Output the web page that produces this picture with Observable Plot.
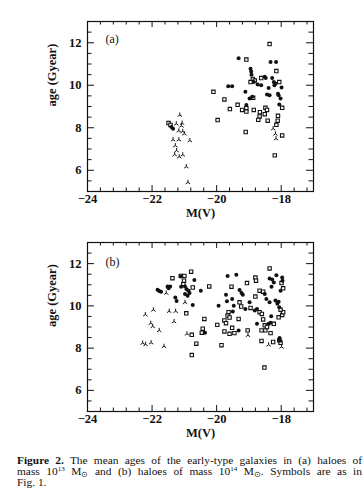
<!DOCTYPE html>
<html><head><meta charset="utf-8">
<script src="https://cdn.jsdelivr.net/npm/d3@7"></script>
<script src="https://cdn.jsdelivr.net/npm/@observablehq/plot@0.6"></script>
<style>
body{margin:0;background:#fff;width:364px;overflow:hidden}
#chart svg{display:block}
#cap{font-family:"Liberation Serif","Times New Roman",serif;font-size:11.4px;line-height:11px;color:#111;margin:10px 2px 0 17px}
#cap .l{display:block;text-align:justify;text-align-last:justify;white-space:nowrap}
#cap .l.last{text-align-last:left}
#cap sup{font-size:7px;line-height:0;vertical-align:4px}
#cap sub{font-size:8px;line-height:0;vertical-align:-2px}
</style></head>
<body>
<div id="chart"></div>
<div id="cap">
<span class="l"><b>Figure 2.</b> The mean ages of the early-type galaxies in (a) haloes of</span>
<span class="l">mass 10<sup>13</sup> M<sub>⊙</sub> and (b) haloes of mass 10<sup>14</sup> M<sub>⊙</sub>. Symbols are as in</span>
<span class="l last">Fig. 1.</span>
</div>
<script>
// Axis ticks
const xMajor = [-24, -22, -20, -18];
const xMinor = [-23.6, -23.2, -22.8, -22.4, -21.6, -21.2, -20.8, -20.4, -19.6, -19.2, -18.8, -18.4, -17.6, -17.2];
const yMajor = [6, 8, 10, 12];
const yMinor = [5.5, 6.5, 7, 7.5, 8.5, 9, 9.5, 10.5, 11, 11.5, 12.5];

// Panel (a): haloes of 10^13 Msun  [M(V), age]
const aCircles = [
[-21.40,8.03],[-21.35,7.95],
[-19.32,11.27],[-18.33,11.09],[-18.16,11.09],
[-18.95,10.78],[-18.93,10.65],[-18.92,10.50],
[-19.64,9.95],[-19.52,9.95],
[-19.11,9.69],[-19.08,9.07],[-18.98,9.38],[-18.90,9.46],
[-18.85,10.15],[-18.73,10.03],[-18.62,10.00],
[-18.51,10.40],[-18.48,10.34],
[-18.39,9.87],[-18.44,9.57],[-18.36,9.53],
[-18.28,10.34],[-18.23,10.15],[-18.21,10.00],[-18.18,10.08],
[-17.99,9.89],[-18.08,9.53],[-18.02,9.38],[-18.06,9.10],[-18.10,9.60]
];
const aSquares = [
[-21.49,8.22],[-21.43,8.13],
[-18.36,11.94],[-19.08,11.21],[-20.10,9.69],[-19.76,9.33],[-19.59,8.88],[-19.97,8.36],
[-19.35,9.08],[-19.21,8.84],[-19.08,8.92],[-19.08,8.76],[-18.87,9.41],
[-18.95,10.15],[-18.88,10.30],[-18.82,10.22],[-18.62,10.34],
[-19.10,7.80],[-18.85,8.84],[-18.66,8.73],[-18.67,8.53],[-18.71,8.37],
[-18.49,8.94],[-18.44,8.84],[-18.51,8.64],[-18.42,8.33],
[-18.15,10.67],[-18.06,10.15],[-17.97,8.94],[-18.10,8.56],[-18.11,8.33],[-18.15,8.14],[-17.97,7.64],
[-18.20,6.70]
];
const aTripods = [
[-21.14,8.60],[-21.25,8.19],[-21.07,8.22],[-21.09,8.09],[-21.17,7.86],[-21.05,7.83],[-21.00,7.72],
[-21.35,7.44],[-21.17,7.44],[-20.83,7.40],[-21.28,7.16],[-21.24,6.93],[-21.30,6.74],[-21.16,6.64],[-21.05,6.73],
[-20.94,6.17],[-20.89,5.43],
[-18.25,7.96],[-18.18,7.71],[-18.16,7.49]
];

// Panel (b): haloes of 10^14 Msun
const bCircles = [
[-21.83,10.76],[-21.78,10.70],[-21.72,10.67],
[-21.52,10.92],[-21.49,10.83],[-21.44,10.92],
[-21.28,10.40],[-21.24,10.23],
[-21.11,11.39],[-21.10,10.91],
[-20.98,10.92],[-20.93,10.79],[-20.87,10.72],[-20.98,10.56],[-20.90,10.48],[-20.84,10.61],
[-20.69,11.23],[-20.74,10.04],[-20.49,10.72],[-20.36,8.73],
[-19.66,11.42],[-19.39,11.47],[-19.71,10.53],[-19.68,10.22],
[-19.29,10.75],[-19.23,10.61],[-19.19,10.53],
[-19.94,10.01],[-19.52,10.32],[-19.47,10.01],[-19.50,9.73],
[-18.98,10.17],[-18.82,9.78],[-18.75,9.85],
[-18.36,11.30],[-18.28,11.25],[-18.15,11.45],[-18.23,11.11],[-18.30,10.91],
[-18.51,10.56],[-18.46,10.32],
[-18.36,10.17],[-18.18,10.25],[-18.08,10.20],[-18.12,10.10],
[-17.97,11.34],[-17.96,11.19],[-18.02,10.72],[-18.06,9.93],
[-18.31,9.51],[-18.75,9.15],[-18.39,9.15],[-18.33,9.20],
[-18.05,8.48],[-18.04,8.35],
[-19.11,9.85],[-19.32,8.84]
];
const bSquares = [
[-21.37,11.31],[-21.11,11.42],[-21.00,11.42],[-20.79,11.62],[-21.01,11.19],[-21.03,11.03],
[-20.74,10.87],[-20.23,10.92],[-20.94,9.65],[-20.38,9.38],[-20.77,8.63],
[-20.43,8.92],[-20.46,8.73],[-20.63,8.21],[-20.77,7.67],
[-18.36,11.77],[-18.80,11.34],[-18.78,11.19],[-19.06,11.08],[-19.54,10.91],
[-17.99,11.08],[-17.94,10.83],[-18.67,10.72],[-18.56,10.67],[-18.80,10.44],
[-19.29,10.17],[-19.24,9.97],[-18.95,9.90],[-18.67,9.70],[-18.60,9.62],
[-19.63,9.70],[-19.66,9.54],[-19.60,9.45],[-19.76,9.31],[-19.71,9.18],[-19.98,9.10],
[-19.52,8.96],[-19.32,9.38],[-19.76,8.79],[-19.60,8.68],[-19.45,8.71],
[-19.04,8.84],[-19.85,8.14],[-18.61,8.84],[-18.49,8.84],
[-18.56,9.36],[-18.51,9.08],[-18.44,9.00],[-18.33,8.71],[-18.23,9.15],
[-18.08,9.46],[-17.97,9.57],[-17.94,9.70],[-18.02,9.82],
[-18.61,8.34],[-18.25,8.29],[-18.06,8.37],[-18.02,8.25],
[-18.52,7.08]
];
const bTripods = [
[-22.21,9.59],[-21.96,9.81],[-22.04,9.18],[-21.98,9.03],[-21.78,8.84],
[-22.29,8.24],[-22.20,8.18],[-22.03,8.26],[-21.63,8.09],
[-21.47,9.75],[-21.27,9.75],[-21.32,9.26],[-20.98,10.17],[-21.56,10.61],[-20.92,8.68],
[-19.03,8.61],[-18.39,8.16],[-17.99,8.06]
];

const tripod = {draw(ctx, size) {
  const L = Math.sqrt(size / Math.PI) * 1.25;
  ctx.moveTo(0, 0); ctx.lineTo(0, -L);
  ctx.moveTo(0, 0); ctx.lineTo(-L * 0.87, L * 0.6);
  ctx.moveTo(0, 0); ctx.lineTo(L * 0.87, L * 0.6);
}};

const ink = "#111";
const fmt = d => d < 0 ? "\u2212" + Math.abs(d) : String(d);

function panel(circ, sq, tri, tag, {height, marginTop, marginBottom, tagDy}) {
  const mL = 87, mR = 51, W = 364;
  const fh = height - marginTop - marginBottom, fw = W - mL - mR;
  const big = 6, small = 3.5;
  return Plot.plot({
    width: W, height, marginLeft: mL, marginRight: mR, marginTop, marginBottom,
    x: {domain: [-24, -17], axis: null},
    y: {domain: [5, 13], axis: null},
    style: {fontFamily: "Liberation Serif, serif", fontSize: "12.5px", color: ink, background: "white", overflow: "visible"},
    marks: [
      Plot.ruleX(xMinor, {x: d => d, insetTop: fh - small, stroke: ink}),
      Plot.ruleX(xMinor, {x: d => d, insetBottom: fh - small, stroke: ink}),
      Plot.ruleX(xMajor, {x: d => d, insetTop: fh - big, stroke: ink}),
      Plot.ruleX(xMajor, {x: d => d, insetBottom: fh - big, stroke: ink}),
      Plot.ruleY(yMinor, {y: d => d, insetRight: fw - small - 1, stroke: ink}),
      Plot.ruleY(yMinor, {y: d => d, insetLeft: fw - small - 1, stroke: ink}),
      Plot.ruleY(yMajor, {y: d => d, insetRight: fw - big - 1, stroke: ink}),
      Plot.ruleY(yMajor, {y: d => d, insetLeft: fw - big - 1, stroke: ink}),
      Plot.frame({stroke: ink, strokeWidth: 1.2}),
      Plot.axisX(xMajor, {tickSize: 0, tickPadding: 3, tickFormat: fmt, fontWeight: "bold", label: null}),
      Plot.axisY(yMajor, {tickSize: 0, tickPadding: 6, fontWeight: "bold", label: null}),
      Plot.text(["M(V)"], {text: d => d, frameAnchor: "bottom", dy: 25, fontWeight: "bold"}),
      Plot.text(["age (Gyear)"], {text: d => d, frameAnchor: "left", dx: -36, rotate: -90, fontWeight: "bold"}),
      Plot.text([tag], {text: d => d, frameAnchor: "top-left", dx: 18, dy: tagDy, textAnchor: "start", fontSize: 12}),
      Plot.dot(sq, {x: d => d[0], y: d => d[1], symbol: "square", r: 1.9, stroke: ink, strokeWidth: 1.1, fill: "white"}),
      Plot.dot(circ, {x: d => d[0], y: d => d[1], symbol: "circle", r: 2, fill: ink, stroke: null}),
      Plot.dot(tri, {x: d => d[0], y: d => d[1], symbol: tripod, r: 2, stroke: ink, strokeWidth: 1, fill: "none"})
    ]
  });
}

const chart = document.getElementById("chart");
chart.append(panel(aCircles, aSquares, aTripods, "(a)", {height: 224, marginTop: 21, marginBottom: 33, tagDy: 13}));
chart.append(panel(bCircles, bSquares, bTripods, "(b)", {height: 221, marginTop: 18, marginBottom: 34, tagDy: 15}));
</script>
</body></html>
